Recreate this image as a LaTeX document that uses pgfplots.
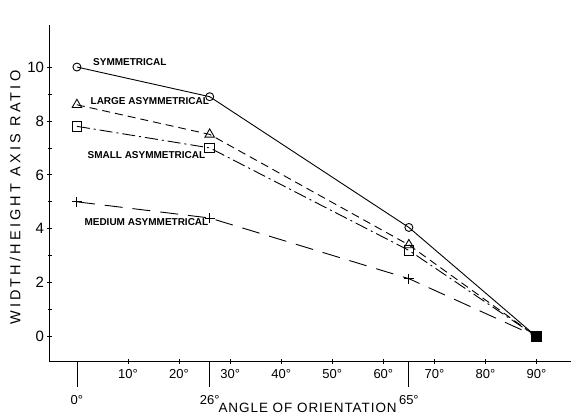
\documentclass[border=0pt]{standalone}
\usepackage{fontspec}
\setmainfont{Liberation Sans}
\newfontfamily\ylabfont[LetterSpace=22]{Liberation Sans}
\newfontfamily\xlabfont[LetterSpace=7]{Liberation Sans}
\usepackage{pgfplots}
\pgfplotsset{compat=1.18}
\begin{document}
\begin{tikzpicture}
\begin{axis}[
  scale only axis, width=521pt, height=337pt,
  xmin=-5.28, xmax=96.65, ymin=-0.93, ymax=11.56,
  axis x line*=bottom, axis y line*=left,
  axis line style={line width=1pt, black},
  /pgf/number format/assume math mode=true,
  xtick={10,20,...,90},
  xticklabels={10°,20°,30°,40°,50°,60°,70°,80°,90°},
  xticklabel style={font=\fontsize{13}{13}\selectfont, yshift=-2pt},
  ytick={0,2,...,10},
  minor ytick={-1,1,3,5,7,9},
  yticklabel style={font=\fontsize{15}{15}\selectfont},
  tick align=center,
  major tick length=5pt, minor tick length=4pt,
  tick style={black, line width=0.8pt},
  extra x ticks={0,26,65},
  extra x tick labels={0°,26°,65°},
  extra x tick style={major tick length=25pt, tick align=outside,
     xticklabel style={yshift=-3pt}},
  xlabel={\xlabfont ANGLE OF ORIENTATION},
  xlabel style={font=\fontsize{13.5}{13.5}\selectfont, at={(axis description cs:0.495,0)}, anchor=north, yshift=-38pt},
  ylabel={\ylabfont WIDTH/HEIGHT AXIS RATIO},
  ylabel style={font=\fontsize{14.5}{14.5}\selectfont, at={(axis description cs:0,0.487)}, anchor=south, yshift=26pt},
  clip=false,
]
\addplot[black, line width=0.9pt, mark=o, mark size=4pt, mark indices={1,2,3}, mark options={solid}]
  coordinates {(0,10) (26,8.9) (65,4.05) (90,0)};
\addplot[black, line width=0.9pt, dash pattern=on 8pt off 5pt, mark=triangle, mark size=5.5pt, mark indices={1,2,3}, mark options={solid}]
  coordinates {(0,8.6) (26,7.5) (65,3.4) (90,0)};
\addplot[black, line width=0.9pt, dash pattern=on 13pt off 4pt on 2pt off 4pt, mark=square, mark size=4.8pt, mark indices={1,2,3}, mark options={solid}]
  coordinates {(0,7.8) (26,7.0) (65,3.2) (90,0)};
\addplot[black, line width=0.9pt, dash pattern=on 18pt off 10pt, mark=+, mark size=5pt, mark indices={1,2,3}, mark options={solid}]
  coordinates {(0,5.0) (26,4.4) (65,2.15) (90,0)};
\addplot[black, only marks, mark=square*, mark size=5pt]
  coordinates {(90,0)};
\node[anchor=west, font=\bfseries\fontsize{10}{10}\selectfont] at (axis cs:2.5,10.2) {SYMMETRICAL};
\node[anchor=west, font=\bfseries\fontsize{10}{10}\selectfont] at (axis cs:2.0,8.75) {LARGE ASYMMETRICAL};
\node[anchor=west, font=\bfseries\fontsize{10}{10}\selectfont] at (axis cs:1.4,6.75) {SMALL ASYMMETRICAL};
\node[anchor=west, font=\bfseries\fontsize{10}{10}\selectfont] at (axis cs:0.8,4.25) {MEDIUM ASYMMETRICAL};
\end{axis}
\path (current axis.south west) ++(-50pt,-57pt) coordinate (bl);
\path (current axis.north east) ++(0pt,25pt) coordinate (tr);
\end{tikzpicture}
\end{document}
